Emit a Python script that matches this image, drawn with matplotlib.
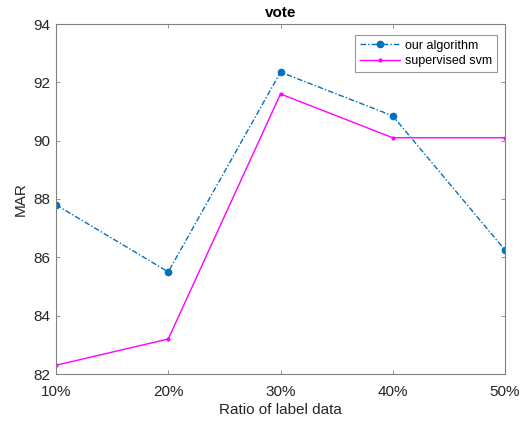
import matplotlib
matplotlib.use("Agg")
import matplotlib.pyplot as plt

plt.rcParams['font.family'] = ['Liberation Sans', 'DejaVu Sans']

ratios = ["10%", "20%", "30%", "40%", "50%"]
our_algorithm = [87.8, 85.5, 92.35, 90.85, 86.25]
supervised_svm = [82.3, 83.2, 91.6, 90.1, 90.1]
y_ticks = [82, 84, 86, 88, 90, 92, 94]

fig = plt.figure(figsize=(5.25, 4.21), dpi=100)
ax = fig.add_axes([56 / 525, 1 - 374 / 421, (505 - 56) / 525, (374 - 24) / 421])

x = list(range(len(ratios)))
ax.plot(x, our_algorithm, linestyle=(0, (4, 1.5, 1, 1.5)), color='#0072BD',
        linewidth=1.0, marker='o', markersize=4.5, label='our algorithm')
ax.plot(x, supervised_svm, linestyle='-', color='#FF00FF', linewidth=1.0,
        marker='.', markersize=4, label='supervised svm')

ax.set_xlim(0, len(ratios) - 1)
ax.set_ylim(82, 94)
ax.set_xticks(x)
ax.set_xticklabels(ratios)
ax.set_yticks(y_ticks)

text_color = '#262626'
axis_color = '#808080'
for s in ax.spines.values():
    s.set_color(axis_color)
    s.set_linewidth(0.8)
ax.tick_params(direction='in', top=True, right=True, length=3, width=0.6,
               color=axis_color, labelcolor=text_color, labelsize=11)
ax.tick_params(axis='x', pad=8)
ax.tick_params(axis='y', pad=4)

ax.set_xlabel('Ratio of label data', fontsize=11, color=text_color, labelpad=3)
ax.set_ylabel('MAR', fontsize=11, color=text_color, labelpad=4)
ax.set_title('vote', fontsize=11, fontweight='bold', color='black', pad=5)

leg = ax.legend(loc='upper right', bbox_to_anchor=(0.982, 0.969), borderaxespad=0,
                fontsize=9, frameon=True, fancybox=False, handlelength=3.2,
                borderpad=0.4, labelspacing=0.25, handletextpad=0.4)
leg.get_frame().set_edgecolor(axis_color)
leg.get_frame().set_linewidth(0.8)

fig.savefig('out.png', dpi=100)
